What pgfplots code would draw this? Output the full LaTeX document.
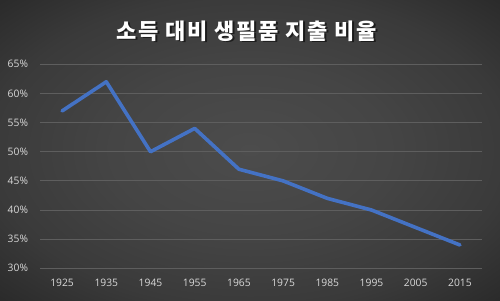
\documentclass[border=0pt]{standalone}
\usepackage{pgfplots}
\pgfplotsset{compat=1.18}
\usepackage{fontspec}
\setmainfont{Open Sans}
\newfontfamily\kr[LetterSpace=8]{Noto Sans CJK KR}
\definecolor{bgin}{HTML}{4C4C4C}
\definecolor{bgmid}{HTML}{3A3A3A}
\definecolor{bgout}{HTML}{232323}
\definecolor{gridc}{HTML}{5E5E5E}
\definecolor{tickc}{HTML}{D9D9D9}
\definecolor{lineblue}{HTML}{4472C4}
\pgfdeclareradialshading{bgshade}{\pgfpoint{0bp}{0bp}}{color(0bp)=(bgin); color(14bp)=(bgin!60!bgmid); color(26bp)=(bgmid); color(40bp)=(bgout); color(50bp)=(bgout)}
\begin{document}
\begin{tikzpicture}[x=1bp,y=1bp]
\shade[shading=bgshade] (0,0) rectangle (500,300);
\node[text=black,opacity=0.55,font=\kr\bfseries\fontsize{22bp}{26bp}\selectfont] at (248.4,267.8) {소득 대비 생필품 지출 비율};
\node[text=white,font=\kr\bfseries\fontsize{22bp}{26bp}\selectfont] at (247,269) {소득 대비 생필품 지출 비율};
\begin{axis}[
  at={(40bp,31.7bp)}, anchor=south west,
  scale only axis, width=442bp, height=204bp,
  xmin=1920, xmax=2020, ymin=30, ymax=65,
  xtick={1925,1935,...,2015}, ytick={30,35,...,65},
  axis line style={draw=none},
  major tick length=0pt,
  ymajorgrids, grid style={gridc, line width=0.8bp},
  /pgf/number format/assume math mode=true,
  /pgf/number format/1000 sep={},
  tick label style={text=tickc, font=\fontsize{10.3bp}{12bp}\selectfont},
  yticklabel={\pgfmathprintnumber{\tick}\%},
  yticklabel style={xshift=-8.5bp},
  xticklabel style={yshift=-7bp},
  clip=false,
]
\addplot[lineblue, line width=3.6bp, line cap=round, line join=round] coordinates {
(1925,57) (1935,62) (1945,50) (1955,54) (1965,47) (1975,45) (1985,42) (1995,40) (2005,37) (2015,34)
};
\end{axis}
\end{tikzpicture}
\end{document}
